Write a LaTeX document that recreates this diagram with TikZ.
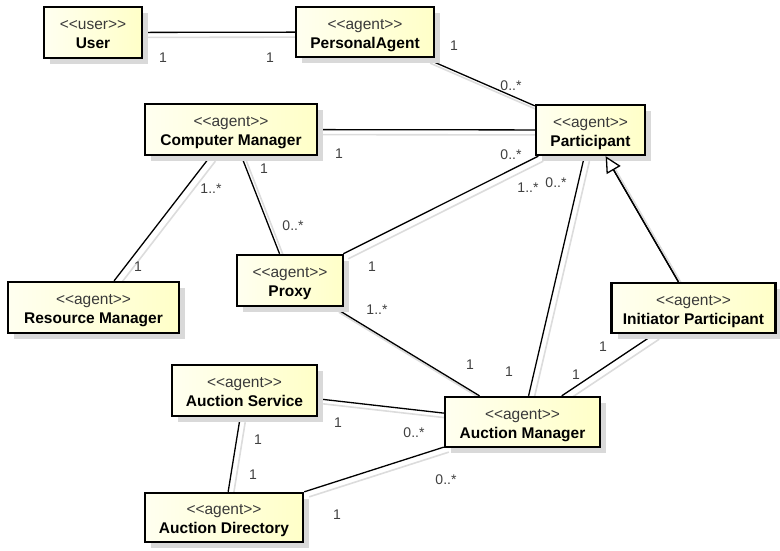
\documentclass[tikz,border=0pt]{standalone}
\usepackage{fontspec}
\setmainfont{Liberation Sans}[Ligatures=TeXOff]
\usetikzlibrary{shadows,arrows.meta}
\definecolor{boxL}{HTML}{FFFFF0}
\definecolor{boxR}{HTML}{FFFFC8}
\definecolor{shad}{HTML}{D9D9D9}
\definecolor{stereo}{HTML}{3A3A3A}
\definecolor{mult}{HTML}{404040}
\definecolor{eshad}{HTML}{DCDCDC}
\pgfdeclarelayer{bg}
\pgfsetlayers{bg,main}
\tikzset{
  agent/.style={draw=black, line width=2.4pt, left color=boxL, right color=boxR,
    general shadow={fill=shad, shadow xshift=6pt, shadow yshift=-6pt},
    inner sep=0pt, font=\fontsize{15.5}{19}\selectfont},
  assoc/.style={draw=black, line width=1.3pt},
  ashadow/.style={draw=eshad, line width=1.6pt, transform canvas={shift={(5pt,-5pt)}}},
  mul/.style={text=mult, font=\fontsize{14}{16}\selectfont, inner sep=0pt},
}
\newcommand{\agtxt}[2]{\raisebox{-3pt}[\height][\depth]{\begin{tabular}{@{}c@{}}\textcolor{stereo}{#1}\\\textbf{#2}\end{tabular}}}
\begin{document}
\begin{tikzpicture}[x=1pt,y=-1pt]
\useasboundingbox (0,0) rectangle (780,550);
% nodes
\node[agent, minimum width=98pt, minimum height=51pt] (user) at (93,32.5) {\agtxt{<<user>>}{User}};
\node[agent, minimum width=138pt, minimum height=50pt] (pa) at (365,32) {\agtxt{<<agent>>}{PersonalAgent}};
\node[agent, minimum width=172pt, minimum height=51pt] (cm) at (231,129.5) {\agtxt{<<agent>>}{Computer Manager}};
\node[agent, minimum width=109pt, minimum height=50pt] (p) at (590.5,130) {\agtxt{<<agent>>}{Participant}};
\node[agent, minimum width=171pt, minimum height=51pt] (rm) at (93.5,307.5) {\agtxt{<<agent>>}{Resource Manager}};
\node[agent, minimum width=106pt, minimum height=51pt] (px) at (290,280.5) {\agtxt{<<agent>>}{Proxy}};
\node[agent, minimum width=164pt, minimum height=50pt] (ip) at (693.5,308) {\agtxt{<<agent>>}{Initiator Participant}};
\node[agent, minimum width=145pt, minimum height=51pt] (as) at (244.5,390.5) {\agtxt{<<agent>>}{Auction Service}};
\node[agent, minimum width=158pt, minimum height=49pt] (ad) at (224,517.5) {\agtxt{<<agent>>}{Auction Directory}};
\node[agent, minimum width=155pt, minimum height=50pt] (am) at (522.5,422) {\agtxt{<<agent>>}{Auction Manager}};
% associations
\begin{pgfonlayer}{bg}
\foreach \a/\b in {user/pa, pa/p, cm/p, cm/rm, cm/px, px/p, px/am, am/p, ip/am, as/am, as/ad, ad/am, ip/p}{
  \draw[ashadow] (\a) -- (\b);
  \draw[assoc] (\a) -- (\b);
}
\end{pgfonlayer}
% generalization
\draw[assoc, -{Triangle[open, length=16pt, width=16pt, fill=white, line width=1.3pt]}] (ip) -- (p);
% multiplicities
\node[mul] (m1) at (163,58) {1};
\node[mul] (m2) at (270,58) {1};
\node[mul] (m3) at (454,46) {1};
\node[mul] (m4) at (511,86) {0..*};
\node[mul] (m5) at (339,154) {1};
\node[mul] (m6) at (264,169) {1};
\node[mul] (m7) at (211,189) {1..*};
\node[mul] (m8) at (511,155) {0..*};
\node[mul] (m9) at (528,188) {1..*};
\node[mul] (m10) at (556,183) {0..*};
\node[mul] (m11) at (138,267) {1};
\node[mul] (m12) at (293,226) {0..*};
\node[mul] (m13) at (372,267) {1};
\node[mul] (m14) at (377,310) {1..*};
\node[mul] (m15) at (603,347) {1};
\node[mul] (m16) at (470,365) {1};
\node[mul] (m17) at (509,372) {1};
\node[mul] (m18) at (576,375) {1};
\node[mul] (m19) at (414,433) {0..*};
\node[mul] (m20) at (446,480) {0..*};
\node[mul] (m21) at (338,423) {1};
\node[mul] (m22) at (258,440) {1};
\node[mul] (m23) at (253,475) {1};
\node[mul] (m24) at (337,515) {1};
\end{tikzpicture}
\end{document}
